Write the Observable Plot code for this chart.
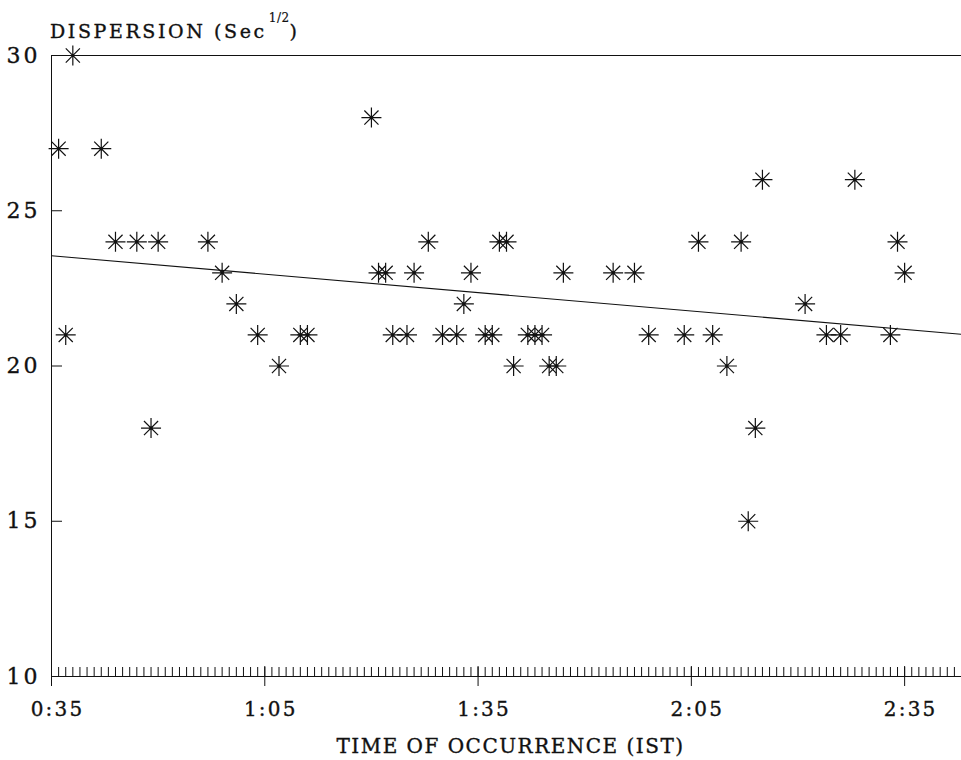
<!DOCTYPE html>
<html>
<head>
<meta charset="utf-8">
<script src="https://cdn.jsdelivr.net/npm/d3@7"></script>
<script src="https://cdn.jsdelivr.net/npm/@observablehq/plot@0.6"></script>
<style>
  html, body { margin: 0; padding: 0; background: #fff; overflow: hidden; }
  #wrap { position: relative; width: 961px; height: 760px; overflow: hidden; font-family: "DejaVu Serif", serif; color: #111; }
  #title { position: relative; height: 45px; }
  #title span.main { position: absolute; left: 50px; top: 22px; font-size: 19px; line-height: 19px; letter-spacing: 2.6px; white-space: nowrap; -webkit-text-stroke: 0.35px #111; }
  #title span.sup { font-size: 12px; position: relative; top: -16px; letter-spacing: 0.5px; margin-left: 2px; -webkit-text-stroke: 0.2px #111; }
  #chart svg { display: block; }
  #chart svg text { letter-spacing: 1.5px; stroke: #111; stroke-width: 0.35px; }
  #chart svg g[aria-label="y-axis tick label"] text { letter-spacing: 3px; }
  #chart svg g[aria-label="x-axis tick label"] text { letter-spacing: 2.2px; }
</style>
</head>
<body>
<div id="wrap">
  <div id="title"><span class="main">DISPERSION (Sec<span class="sup">1/2</span>)</span></div>
  <div id="chart"></div>
</div>
<script>
// Time of occurrence (IST, h:mm) and dispersion (sec^1/2)
const times = [
  "0:36","0:37","0:38","0:42","0:44","0:47","0:49","0:50","0:57","0:59",
  "1:01","1:04","1:07","1:10","1:11","1:20","1:21","1:22","1:23","1:25",
  "1:26","1:28","1:30","1:32","1:33","1:34","1:36","1:37","1:38","1:39",
  "1:40","1:42","1:43","1:44","1:45","1:46","1:47","1:54","1:57","1:59",
  "2:04","2:06","2:08","2:10","2:12","2:13","2:14","2:15","2:21","2:24",
  "2:26","2:28","2:33","2:34","2:35"
];
const dispersion = [
  27, 21, 30, 27, 24, 24, 18, 24, 24, 23,
  22, 21, 20, 21, 21, 28, 23, 23, 21, 21,
  23, 24, 21, 21, 22, 23, 21, 21, 24, 24,
  20, 21, 21, 21, 20, 20, 23, 23, 23, 21,
  21, 24, 21, 20, 24, 15, 18, 26, 22, 21,
  21, 26, 21, 24, 23
];
// Trend line end points
const trendTimes = ["0:35", "2:43"];
const trendValues = [23.55, 21.02];

const xTickLabels = ["0:35", "1:05", "1:35", "2:05", "2:35"];
const yTickValues = [10, 15, 20, 25, 30];
const xDomainLabels = ["0:35", "2:43"];

const parseT = s => { const [h, m] = s.split(":").map(Number); return h * 60 + m; };
const fmtT = m => `${Math.floor(m / 60)}:${String(m % 60).padStart(2, "0")}`;

const data = times.map((t, i) => ({t: parseT(t), v: dispersion[i]}));
const trend = trendTimes.map((t, i) => ({t: parseT(t), v: trendValues[i]}));
const majorTicks = xTickLabels.map(parseT);
const xDomain = xDomainLabels.map(parseT);
const minorTicks = d3.range(xDomain[0] + 1, xDomain[1]);

const star8 = {
  draw(ctx, size) {
    const r = Math.sqrt(size / Math.PI);
    const d = r * Math.SQRT1_2;
    ctx.moveTo(-r, 0); ctx.lineTo(r, 0);
    ctx.moveTo(0, -r); ctx.lineTo(0, r);
    ctx.moveTo(-d, -d); ctx.lineTo(d, d);
    ctx.moveTo(-d, d); ctx.lineTo(d, -d);
  }
};

const chart = Plot.plot({
  width: 961,
  height: 715,
  marginLeft: 51,
  marginRight: 0,
  marginTop: 10,
  marginBottom: 84,
  style: {fontFamily: "DejaVu Serif, serif", fontSize: "20px", color: "#111", background: "#fff", overflow: "visible"},
  x: {domain: xDomain},
  y: {domain: [yTickValues[0], yTickValues[yTickValues.length - 1]]},
  marks: [
    Plot.axisY(yTickValues, {tickSize: -11, tickPadding: 22, label: null, stroke: "#111", fontSize: 22}),
    Plot.axisX(minorTicks, {tickSize: -9, text: null, label: null, stroke: "#111"}),
    Plot.axisX(majorTicks, {tickSize: -10, text: null, label: null, stroke: "#111"}),
    Plot.axisX(majorTicks, {tickSize: 10, text: null, label: null, stroke: "#111"}),
    Plot.axisX(majorTicks, {tickSize: 0, tickPadding: 25, tickFormat: fmtT, label: null, dx: 6, fontSize: 20}),
    Plot.ruleY([yTickValues[0]], {stroke: "#111"}),
    Plot.ruleY([yTickValues[yTickValues.length - 1]], {stroke: "#111"}),
    Plot.ruleX([xDomain[0]], {stroke: "#111"}),
    Plot.line(trend, {x: "t", y: "v", stroke: "#111", strokeWidth: 1.1}),
    Plot.dot(data, {x: "t", y: "v", symbol: star8, r: 10, stroke: "#111", fill: "none", strokeWidth: 1.2}),
    Plot.dot(data, {x: "t", y: "v", r: 1.5, fill: "#111", stroke: "none"}),
    Plot.text(["TIME OF OCCURRENCE (IST)"], {frameAnchor: "bottom", dy: 70, dx: 4, lineAnchor: "middle", fontSize: 20, fill: "#111"})
  ]
});
document.getElementById("chart").appendChild(chart);
</script>
</body>
</html>
